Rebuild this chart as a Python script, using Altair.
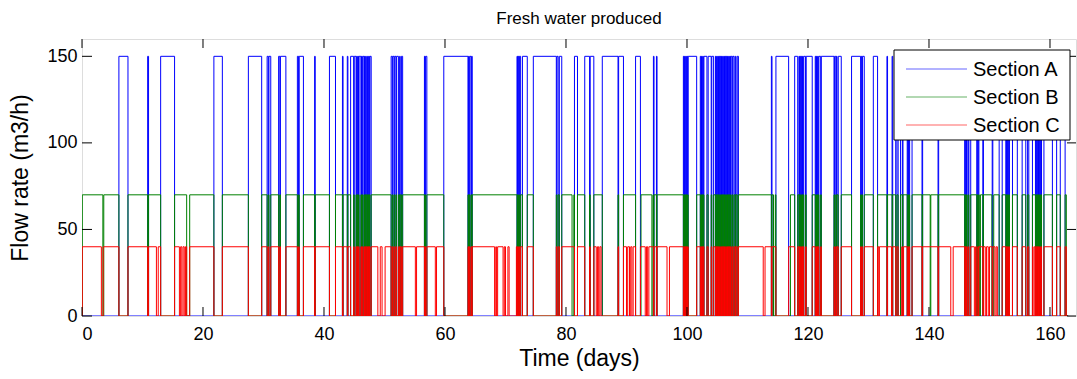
import altair as alt
import pandas as pd

series_names = ["Section A", "Section B", "Section C"]
series_levels = [150, 70, 40]
series_colors = ["#0000ff", "#008000", "#ff0000"]

# Section A "on" periods (days)
a_on = [
    (6.1, 7.6), (10.85, 11.0), (13.0, 15.3), (21.8, 23.2),
    (27.5, 29.7), (30.6, 30.8), (30.9, 31.2), (32.5, 32.7), (32.8, 33.7),
    (35.6, 35.8), (35.9, 36.6), (38.45, 38.55), (40.9, 41.9),
    (43.05, 43.15), (43.85, 43.95), (44.4, 44.9), (45.0, 45.3), (45.4, 45.5),
    (45.6, 45.7), (45.8, 46.1), (46.2, 46.3), (46.4, 46.6), (46.7, 46.8),
    (46.9, 47.0), (47.2, 47.3), (47.4, 47.5), (47.6, 47.8),
    (51.1, 51.3), (51.4, 51.6), (51.7, 51.9), (52.0, 52.3), (52.5, 52.6), (52.8, 53.0),
    (56.6, 56.7), (56.8, 57.0),
    (59.8, 63.8), (63.9, 64.0), (64.1, 64.3), (64.4, 64.5),
    (71.9, 72.0), (72.1, 72.2), (72.3, 72.5), (72.8, 73.6),
    (74.6, 78.4), (78.5, 78.7), (78.9, 79.3),
    (81.4, 81.9), (83.1, 83.9), (84.0, 84.6), (86.0, 88.6), (88.7, 89.5), (91.5, 92.3),
    (94.45, 94.55), (94.95, 95.05),
    (99.4, 99.5), (99.6, 99.7), (99.8, 99.9), (100.0, 100.1), (100.2, 101.6),
    (102.2, 102.3), (102.4, 102.5), (102.6, 102.7), (102.8, 103.3), (103.5, 104.0), (104.1, 104.4),
    (104.7, 104.8), (104.9, 105.0), (105.1, 105.2), (105.3, 105.4), (105.5, 105.6),
    (105.7, 105.8), (105.9, 106.0), (106.1, 106.2), (106.3, 106.4), (106.5, 106.6),
    (106.7, 106.8), (106.9, 107.0), (107.1, 107.2), (107.3, 107.5), (107.6, 107.8),
    (108.0, 108.1), (108.3, 108.5),
    (113.95, 114.05), (114.7, 116.8),
    (117.8, 118.3), (118.5, 118.6), (118.7, 118.8), (118.9, 119.0), (119.1, 119.2),
    (119.3, 119.6), (119.7, 120.7),
    (121.2, 121.3), (121.4, 121.5), (121.6, 121.7), (121.8, 122.1), (122.2, 124.3),
    (124.4, 124.6), (124.7, 124.8), (125.0, 125.5),
    (127.2, 128.7), (128.8, 128.9), (129.0, 129.3), (130.8, 131.5), (133.05, 133.15),
    (133.9, 134.0), (134.5, 134.7), (134.9, 135.3), (135.6, 135.7), (136.4, 136.5),
    (136.6, 136.7), (136.8, 137.2), (138.85, 138.95), (141.5, 141.6),
    (145.9, 146.0), (146.1, 146.2), (146.3, 146.5), (146.6, 146.9), (147.9, 148.0),
    (148.15, 148.25), (148.9, 149.0), (150.45, 150.55), (151.6, 152.1),
    (152.7, 152.8), (152.9, 153.0), (153.1, 153.2), (153.3, 153.8), (154.6, 155.4),
    (156.0, 156.3), (156.5, 157.1),
    (157.6, 157.7), (157.8, 157.9), (158.0, 158.1), (158.2, 158.3), (158.4, 158.5),
    (158.6, 159.0), (160.4, 161.1), (161.7, 162.5),
]

# extra Section B "off" periods
b_dips = [
    (3.45, 3.6), (17.3, 17.8), (81.0, 81.3), (92.3, 92.4), (94.2, 94.4),
    (114.3, 114.6), (116.6, 117.1), (140.2, 140.3), (148.3, 148.5), (150.4, 150.7),
]

# extra Section C "off" periods
c_dips = [
    (3.2, 3.5), (12.3, 12.6), (16.1, 16.3), (16.5, 16.7), (16.9, 17.1), (17.3, 17.8),
    (48.9, 49.3), (49.6, 50.1), (55.1, 55.3), (58.4, 58.6), (61.9, 62.2), (62.4, 62.7),
    (68.2, 68.4), (68.5, 68.7), (69.6, 69.8), (70.0, 70.4), (70.6, 71.8),
    (85.0, 85.2), (85.4, 85.6), (85.8, 86.0), (90.0, 90.2), (90.5, 90.7), (90.9, 91.1),
    (93.1, 93.3), (93.5, 93.7), (96.7, 97.1),
    (112.6, 112.9), (115.6, 115.8), (116.2, 116.5),
    (131.7, 131.8), (133.8, 133.9), (135.3, 135.5), (135.7, 135.8),
    (143.6, 144.0), (147.5, 147.7), (147.9, 148.1), (149.3, 149.5), (149.8, 150.0),
    (150.9, 151.1), (151.3, 151.6), (156.8, 157.0), (157.2, 157.4),
]

t_first = 0.05
t_end = 162.7
t_last = 163.0

x_ticks = [0, 20, 40, 60, 80, 100, 120, 140, 160]
y_ticks = [0, 50, 100, 150]
x_domain = [0, 164.3]
y_domain = [0, 160]


def merge(intervals):
    out = []
    for s, e in sorted(intervals):
        if out and s <= out[-1][1]:
            out[-1][1] = max(out[-1][1], e)
        else:
            out.append([s, e])
    return out


rows = []


def add(name, pts):
    for i, (t, v) in enumerate(pts):
        rows.append({"name": name, "t": t, "v": v, "i": i})


# Section A: on periods
pts = [(0.0, 0)]
for s, e in merge(a_on):
    pts += [(s, series_levels[0]), (e, 0)]
pts.append((t_last, 0))
add(series_names[0], pts)

# Sections B and C: on except when A runs or during their own dips
for k, dips in ((1, b_dips), (2, c_dips)):
    lvl = series_levels[k]
    pts = [(0.0, 0), (t_first, lvl)]
    for s, e in merge(a_on + dips):
        pts += [(s, 0), (e, lvl)]
    pts += [(t_end, 0), (t_last, 0)]
    add(series_names[k], pts)

df = pd.DataFrame(rows)

W, H = 994, 277
FONT = "Liberation Sans"

xs = alt.Scale(domain=x_domain, nice=False, zero=False)
ys = alt.Scale(domain=y_domain, nice=False)

x_axis = alt.Axis(
    values=x_ticks, ticks=False, domain=False, grid=False,
    labelFontSize=18, labelPadding=9, labelColor="black", labelFont=FONT,
    title="Time (days)", titleFontSize=23, titleFontWeight="normal", titleFont=FONT,
    titleColor="black", titleY=49, titleBaseline="alphabetic",
)
y_axis = alt.Axis(
    values=y_ticks, ticks=False, domain=False, grid=False,
    labelFontSize=18, labelPadding=5, labelColor="black", labelFont=FONT,
    title="Flow rate (m3/h)", titleFontSize=23, titleFontWeight="normal", titleFont=FONT,
    titleColor="black", titleX=-55, titleY=H / 2, titleAngle=270, titleBaseline="alphabetic",
)

X = alt.X("t:Q", scale=xs, axis=x_axis)
Y = alt.Y("v:Q", scale=ys, axis=y_axis)

layers = []
for k, name in enumerate(series_names):
    layers.append(
        alt.Chart(df)
        .transform_filter(alt.datum.name == name)
        .mark_line(interpolate="step-after", strokeWidth=1, color=series_colors[k], clip=True)
        .encode(x=X, y=Y, order=alt.Order("i:Q"))
    )

# inward tick marks on all four sides
xt = pd.DataFrame({"t": x_ticks})
yt = pd.DataFrame({"v": y_ticks})
tick_len = 9
layers.append(alt.Chart(xt).mark_rule(color="black", strokeWidth=1).encode(
    x=X, y=alt.value(H), y2=alt.value(H - tick_len)))
layers.append(alt.Chart(xt).mark_rule(color="black", strokeWidth=1).encode(
    x=X, y=alt.value(0), y2=alt.value(tick_len)))
layers.append(alt.Chart(yt).mark_rule(color="black", strokeWidth=1).encode(
    y=Y, x=alt.value(0), x2=alt.value(tick_len + 1)))
layers.append(alt.Chart(yt).mark_rule(color="black", strokeWidth=1).encode(
    y=Y, x=alt.value(W), x2=alt.value(W - tick_len)))

# legend box (one-row data so each element is drawn once)
one = pd.DataFrame({"k": [0]})
lg_x0, lg_x1, lg_y0, lg_y1 = 812, 988, 11, 101
layers.append(alt.Chart(one).mark_rect(fill="white", stroke="black", strokeWidth=1).encode(
    x=alt.value(lg_x0), x2=alt.value(lg_x1), y=alt.value(lg_y0), y2=alt.value(lg_y1)))
for k, name in enumerate(series_names):
    yy = 30 + 28 * k
    layers.append(alt.Chart(one).mark_rule(color=series_colors[k], strokeWidth=1.2, opacity=0.6).encode(
        x=alt.value(824), x2=alt.value(885), y=alt.value(yy)))
    layers.append(alt.Chart(one).mark_text(
        align="left", baseline="middle", fontSize=20, font=FONT, color="black").encode(
        x=alt.value(891), y=alt.value(yy + 1), text=alt.value(name)))

chart = alt.layer(*layers).properties(
    width=W, height=H,
    title=alt.Title("Fresh water produced", fontSize=17, fontWeight="normal", font=FONT,
                    color="black", anchor="middle", offset=-2, baseline="alphabetic"),
    autosize=alt.AutoSizeParams(type="none"),
    padding={"left": 82, "top": 39, "right": 1, "bottom": 63},
).configure_view(stroke="black", strokeWidth=1).configure(background="white")

chart.save("out.html", embed_options={"renderer": "svg", "actions": False})
